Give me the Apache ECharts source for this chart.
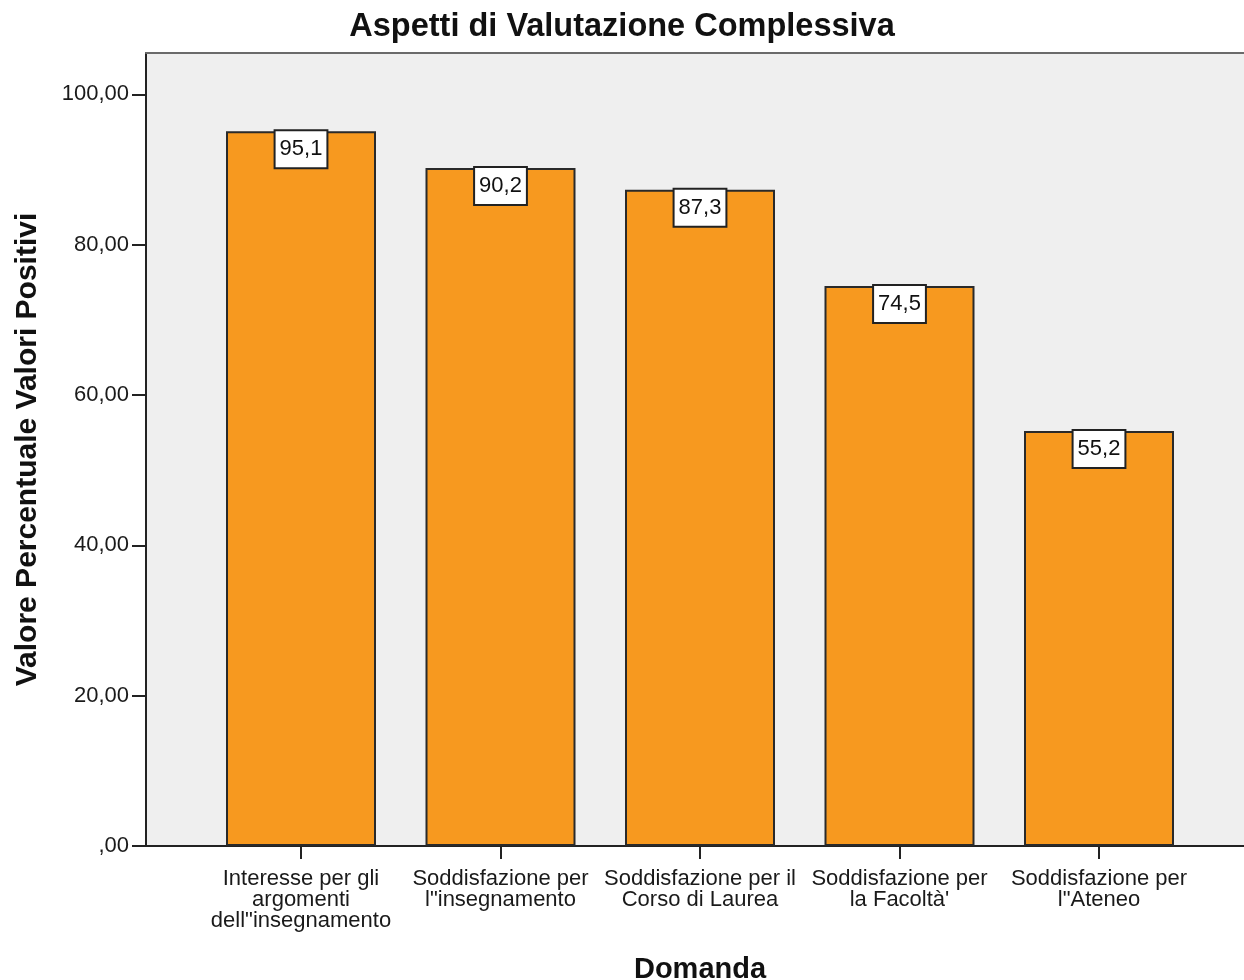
<!DOCTYPE html>
<html>
<head>
<meta charset="utf-8">
<title>Aspetti di Valutazione Complessiva</title>
<script src="https://cdn.jsdelivr.net/npm/echarts@6/dist/echarts.min.js"></script>
<style>
  html, body { margin: 0; padding: 0; background: #fff; }
  #main { width: 1244px; height: 980px; }
</style>
</head>
<body>
<div id="main"></div>
<script>
// dati
var domande = [
    'Interesse per gli\nargomenti\ndell"insegnamento',
    'Soddisfazione per\nl"insegnamento',
    'Soddisfazione per il\nCorso di Laurea',
    'Soddisfazione per\nla Facoltà\'',
    'Soddisfazione per\nl"Ateneo'
];
var valoriPositivi = [95.1, 90.2, 87.3, 74.5, 55.2];
var yTicks = [0, 20, 40, 60, 80, 100];

var font = 'Liberation Sans, Arial, sans-serif';
var yMax = 105.5;

function virgola(v, d) {
    var s = v.toFixed(d).replace('.', ',');
    if (v === 0) s = s.replace(/^0/, '');
    return s;
}

var myChart = echarts.init(document.getElementById('main'));

var option = {
    animation: false,
    title: {
        text: 'Aspetti di Valutazione Complessiva',
        left: 'center',
        top: 6,
        textStyle: { fontFamily: font, fontSize: 32.5, fontWeight: 'bold', color: '#111' }
    },
    grid: [
        // sfondo grigio + asse y
        { left: 146, right: 0, top: 53, bottom: 134, show: true, backgroundColor: '#efefef', borderWidth: 0, outerBoundsMode: 'none', containLabel: false },
        // barre
        { left: 201.25, width: 997.5, top: 53, bottom: 134, outerBoundsMode: 'none', containLabel: false }
    ],
    xAxis: [
        {
            gridIndex: 0, type: 'value', min: 0, max: 1, position: 'bottom',
            axisLine: { show: true, lineStyle: { color: '#222', width: 2 } },
            axisTick: { show: false }, axisLabel: { show: false }, splitLine: { show: false }
        },
        {
            gridIndex: 0, type: 'value', min: 0, max: 1, position: 'top',
            axisLine: { show: true, lineStyle: { color: '#6a6a6a', width: 2 } },
            axisTick: { show: false }, axisLabel: { show: false }, splitLine: { show: false }
        },
        {
            gridIndex: 1, type: 'category', data: domande, position: 'bottom',
            axisLine: { show: false },
            axisTick: { show: true, alignWithLabel: true, length: 13, lineStyle: { color: '#222', width: 2 } },
            axisLabel: {
                interval: 0, margin: 22, fontFamily: font, fontSize: 22, lineHeight: 21,
                color: '#1a1a1a', align: 'center'
            },
            name: 'Domanda', nameLocation: 'middle', nameGap: 109,
            nameTextStyle: { fontFamily: font, fontSize: 29, fontWeight: 'bold', color: '#111' }
        }
    ],
    yAxis: [
        {
            gridIndex: 0, type: 'value', min: 0, max: yMax, interval: 20,
            axisLine: { show: true, lineStyle: { color: '#222', width: 2 } },
            axisTick: {
                show: true, length: 14, lineStyle: { color: '#222', width: 2 },
                customValues: yTicks
            },
            axisLabel: {
                margin: 17, fontFamily: font, fontSize: 22, color: '#1a1a1a',
                customValues: yTicks,
                formatter: function (v) { return virgola(v, 2); }
            },
            splitLine: { show: false },
            name: 'Valore Percentuale Valori Positivi', nameLocation: 'middle', nameGap: 103,
            nameTextStyle: { fontFamily: font, fontSize: 30, fontWeight: 'bold', color: '#111' }
        },
        {
            gridIndex: 1, type: 'value', min: 0, max: yMax,
            show: false
        }
    ],
    series: [
        {
            type: 'bar',
            xAxisIndex: 2,
            yAxisIndex: 1,
            data: valoriPositivi,
            barWidth: 150,
            itemStyle: { color: '#F7991F', borderColor: '#2a2a2a', borderWidth: 2 },
            label: {
                show: true,
                position: 'insideTop',
                distance: 0,
                fontFamily: font,
                fontSize: 22,
                lineHeight: 22,
                color: '#111',
                backgroundColor: '#fff',
                borderColor: '#222',
                borderWidth: 2,
                padding: [7, 4, 7, 4],
                formatter: function (p) { return virgola(p.value, 1); }
            }
        }
    ]
};

myChart.setOption(option);
</script>
</body>
</html>
